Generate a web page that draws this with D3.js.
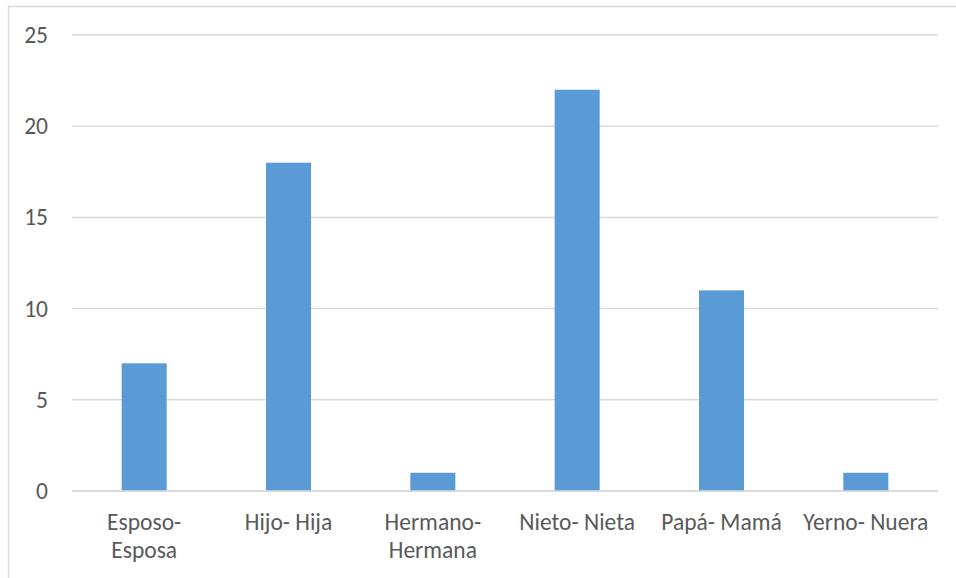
<!DOCTYPE html>
<html>
<head>
<meta charset="utf-8">
<script src="https://cdn.jsdelivr.net/npm/d3@7"></script>
<style>
  html, body { margin: 0; padding: 0; background: #fff; }
  svg { display: block; }
  text { font-family: Calibri, Carlito, Lato, "Open Sans", sans-serif; fill: #595959; }
</style>
</head>
<body>
<svg id="chart" width="956" height="578"></svg>
<script>
// Parentesco con el jefe de hogar
const categories = [
  ["Esposo-", "Esposa"],
  ["Hijo- Hija"],
  ["Hermano-", "Hermana"],
  ["Nieto- Nieta"],
  ["Papá- Mamá"],
  ["Yerno- Nuera"]
];
const values = [7, 18, 1, 22, 11, 1];
const yTicks = [0, 5, 10, 15, 20, 25];

const svg = d3.select("#chart");
const W = 956, H = 578;
const margin = { left: 72, right: 18, top: 35, bottom: 87 };
const fontSize = 23.5;

// outer chart frame (extends past the right and bottom edges)
svg.append("rect")
  .attr("x", 8.5).attr("y", 6.5)
  .attr("width", W + 20).attr("height", H + 20)
  .attr("fill", "#fff")
  .attr("stroke", "#d9d9d9").attr("stroke-width", 1.5);

const x = d3.scaleBand()
  .domain(categories.map((d, i) => i))
  .range([margin.left, W - margin.right])
  .paddingInner(0.688).paddingOuter(0.344);

const y = d3.scaleLinear()
  .domain([0, 25])
  .range([H - margin.bottom, margin.top]);

// horizontal gridlines
svg.append("g")
  .selectAll("line")
  .data(yTicks)
  .join("line")
  .attr("x1", margin.left).attr("x2", W - margin.right)
  .attr("y1", d => y(d)).attr("y2", d => y(d))
  .attr("stroke", "#d9d9d9").attr("stroke-width", 1.5);

// y-axis labels
const yAxis = d3.axisLeft(y).tickValues(yTicks).tickSize(0).tickPadding(0);
const gy = svg.append("g").attr("transform", `translate(48,0)`).call(yAxis);
gy.select(".domain").remove();
gy.selectAll("text")
  .attr("font-size", fontSize)
  .attr("font-family", "Calibri, Carlito, Lato, 'Open Sans', sans-serif")
  .attr("fill", "#595959");

// bars
svg.append("g")
  .selectAll("rect")
  .data(values)
  .join("rect")
  .attr("x", (d, i) => x(i))
  .attr("width", x.bandwidth())
  .attr("y", d => y(d))
  .attr("height", d => y(0) - y(d))
  .attr("fill", "#5b9bd5");

// baseline drawn on top of the bars
svg.append("line")
  .attr("x1", margin.left).attr("x2", W - margin.right)
  .attr("y1", y(0)).attr("y2", y(0))
  .attr("stroke", "#d9d9d9").attr("stroke-width", 1.5);

// category labels, wrapped onto two lines where needed
const xAxis = d3.axisBottom(x).tickSize(0).tickFormat(() => "");
const gx = svg.append("g").attr("transform", `translate(0,${y(0)})`).call(xAxis);
gx.select(".domain").remove();
gx.selectAll(".tick text").remove();
gx.selectAll(".tick").each(function(i) {
  const t = d3.select(this).append("text")
    .attr("text-anchor", "middle")
    .attr("font-size", fontSize)
    .attr("fill", "#595959");
  categories[i].forEach((line, k) => {
    t.append("tspan").attr("x", 0).attr("y", 39 + k * 28).text(line);
  });
});
</script>
</body>
</html>
